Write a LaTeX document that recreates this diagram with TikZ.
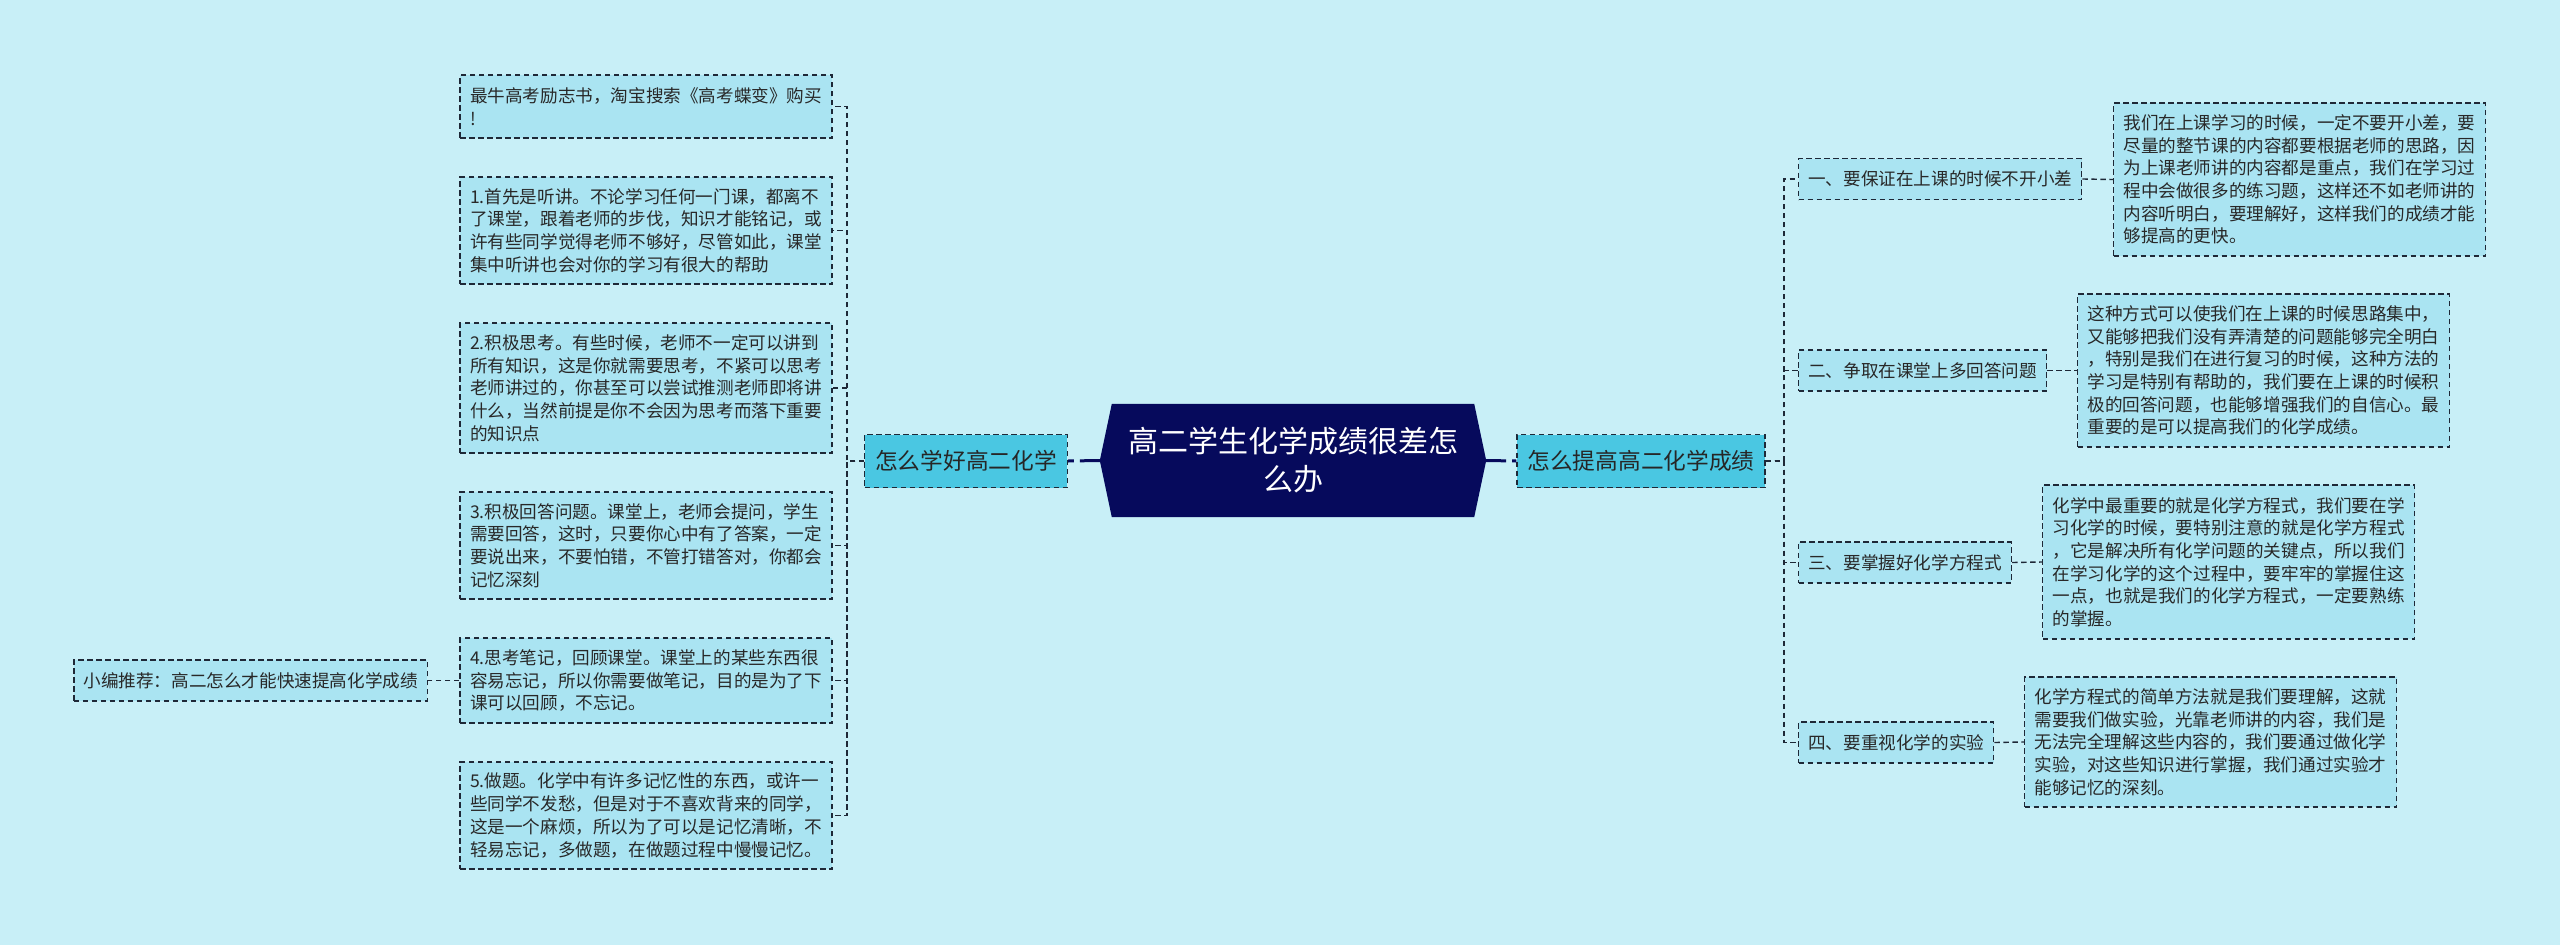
\documentclass[tikz,border=0pt]{standalone}
\usepackage{fontspec}
\setmainfont{Noto Sans CJK SC}
\usetikzlibrary{backgrounds}
\definecolor{bgc}{RGB}{200,239,247}
\definecolor{leafc}{RGB}{170,228,242}
\definecolor{midc}{RGB}{74,199,226}
\definecolor{navyc}{RGB}{6,10,92}
\definecolor{edgec}{RGB}{30,40,55}
\definecolor{txtc}{RGB}{40,40,40}
\tikzset{
  box/.style={draw=edgec, line width=1.4pt, dash pattern=on 5.5pt off 3.5pt, fill=leafc, text=txtc, inner ysep=0pt, font=\fontsize{17.6}{22.7}\selectfont},
  leafbox/.style={box, align=left, inner xsep=10pt, text width=352pt, anchor=center},
  itembox/.style={box, inner xsep=9.5pt, minimum height=41pt},
  topbox/.style={box, fill=midc, text=black!85, font=\fontsize{22.7}{28}\selectfont, inner xsep=10.5pt, minimum height=53pt},
  conn/.style={draw=edgec, line width=1.4pt, dash pattern=on 5.5pt off 3.5pt},
  mainconn/.style={draw=navyc, line width=3pt, dash pattern=on 20pt off 6pt},
}
\begin{document}
\begin{tikzpicture}[x=1pt,y=-1pt]
\useasboundingbox (0,0) rectangle (2560,945);
\begin{scope}[on background layer]
\fill[bgc] (0,0) rectangle (2560,945);
\end{scope}

% center
\node[font=\fontsize{30}{38}\selectfont, text=white, align=center, minimum width=386pt, minimum height=113pt, inner sep=0pt] (C) at (1293,460.5) {高二学生化学成绩很差怎\\么办};
\begin{scope}[on background layer]
\fill[navyc] ([xshift=12pt]C.north west) -- ([xshift=-12pt]C.north east) -- (C.east) -- ([xshift=-12pt]C.south east) -- ([xshift=12pt]C.south west) -- (C.west) -- cycle;
\end{scope}

% level 1
\node[topbox] (L) at (966,461) {怎么学好高二化学};
\node[topbox] (R) at (1641,461) {怎么提高高二化学成绩};

% left leaves
\node[leafbox, minimum height=63pt] (a0) at (646,106.5) {最牛高考励志书，淘宝搜索《高考蝶变》购买\\!};
\node[leafbox, minimum height=107pt] (a1) at (646,230.5) {1.首先是听讲。不论学习任何一门课，都离不\\了课堂，跟着老师的步伐，知识才能铭记，或\\许有些同学觉得老师不够好，尽管如此，课堂\\集中听讲也会对你的学习有很大的帮助};
\node[leafbox, minimum height=130pt] (a2) at (646,388) {2.积极思考。有些时候，老师不一定可以讲到\\所有知识，这是你就需要思考，不紧可以思考\\老师讲过的，你甚至可以尝试推测老师即将讲\\什么，当然前提是你不会因为思考而落下重要\\的知识点};
\node[leafbox, minimum height=107pt] (a3) at (646,545.5) {3.积极回答问题。课堂上，老师会提问，学生\\需要回答，这时，只要你心中有了答案，一定\\要说出来，不要怕错，不管打错答对，你都会\\记忆深刻};
\node[leafbox, minimum height=85pt] (a4) at (646,680.5) {4.思考笔记，回顾课堂。课堂上的某些东西很\\容易忘记，所以你需要做笔记，目的是为了下\\课可以回顾，不忘记。};
\node[leafbox, minimum height=107pt] (a5) at (646,815.5) {5.做题。化学中有许多记忆性的东西，或许一\\些同学不发愁，但是对于不喜欢背来的同学，\\这是一个麻烦，所以为了可以是记忆清晰，不\\轻易忘记，多做题，在做题过程中慢慢记忆。};
\node[itembox, anchor=east] (ex) at (428,680.5) {小编推荐：高二怎么才能快速提高化学成绩};

% right items
\node[itembox, anchor=west] (r1) at (1798,179) {一、要保证在上课的时候不开小差};
\node[itembox, anchor=west] (r2) at (1798,370.5) {二、争取在课堂上多回答问题};
\node[itembox, anchor=west] (r3) at (1798,562.5) {三、要掌握好化学方程式};
\node[itembox, anchor=west] (r4) at (1798,742.5) {四、要重视化学的实验};

% right leaves
\node[leafbox, minimum height=153pt] (b1) at (2299.5,179.5) {我们在上课学习的时候，一定不要开小差，要\\尽量的整节课的内容都要根据老师的思路，因\\为上课老师讲的内容都是重点，我们在学习过\\程中会做很多的练习题，这样还不如老师讲的\\内容听明白，要理解好，这样我们的成绩才能\\够提高的更快。};
\node[leafbox, minimum height=153pt] (b2) at (2263.5,370.5) {这种方式可以使我们在上课的时候思路集中，\\又能够把我们没有弄清楚的问题能够完全明白\\，特别是我们在进行复习的时候，这种方法的\\学习是特别有帮助的，我们要在上课的时候积\\极的回答问题，也能够增强我们的自信心。最\\重要的是可以提高我们的化学成绩。};
\node[leafbox, minimum height=154pt] (b3) at (2228.75,562) {化学中最重要的就是化学方程式，我们要在学\\习化学的时候，要特别注意的就是化学方程式\\，它是解决所有化学问题的关键点，所以我们\\在学习化学的这个过程中，要牢牢的掌握住这\\一点，也就是我们的化学方程式，一定要熟练\\的掌握。};
\node[leafbox, minimum height=130pt] (b4) at (2210.5,742) {化学方程式的简单方法就是我们要理解，这就\\需要我们做实验，光靠老师讲的内容，我们是\\无法完全理解这些内容的，我们要通过做化学\\实验，对这些知识进行掌握，我们通过实验才\\能够记忆的深刻。};

% connectors
\coordinate (busL) at (847,461);
\coordinate (busR) at (1784,461);
\draw[mainconn] (C.west) -- (L.east);
\draw[mainconn] (C.east) -- (R.west);
\foreach \n in {a0,a1,a2,a3,a4,a5} {
  \draw[conn] (L.west) -- (busL) |- (\n.east);
}
\draw[conn] (a4.west) -- (ex.east);
\foreach \n in {r1,r2,r3,r4} {
  \draw[conn] (R.east) -- (busR) |- (\n.west);
}
\draw[conn] (r1.east) -- (b1.west);
\draw[conn] (r2.east) -- (b2.west);
\draw[conn] (r3.east) -- (b3.west);
\draw[conn] (r4.east) -- (b4.west);
\end{tikzpicture}
\end{document}
